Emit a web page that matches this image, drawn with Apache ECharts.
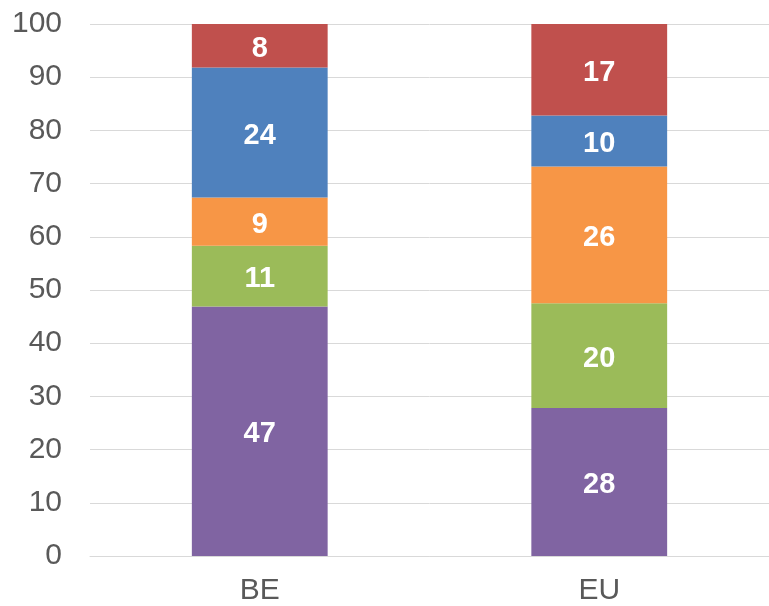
<!DOCTYPE html>
<html>
<head>
    <meta charset="utf-8">
    <script src="https://cdn.jsdelivr.net/npm/echarts@6/dist/echarts.min.js"></script>
</head>
<body style="margin:0;">
    <div id="container" style="width: 769px;height: 606px;"></div>
    <script type="text/javascript">
        // data (segment heights, labels are rounded)
        var categories = ['BE', 'EU'];
        var purple = [46.9, 27.8];
        var green = [11.4, 19.7];
        var orange = [9.1, 25.7];
        var blue = [24.4, 9.6];
        var red = [8.2, 17.2];

        var colors = ['#8064A2', '#9BBB59', '#F79646', '#4F81BD', '#C0504D'];
        var stacks = [purple, green, orange, blue, red];

        var myChart = echarts.init(document.getElementById('container'));

        var series = [];
        for (var i = 0; i < stacks.length; i++) {
            series.push({
                type: 'bar',
                stack: 'all',
                barWidth: '40%',
                data: stacks[i],
                itemStyle: { color: colors[i] },
                label: {
                    show: true,
                    position: 'inside',
                    offset: [0, 3],
                    color: '#fff',
                    fontFamily: 'Liberation Sans',
                    fontWeight: 'bold',
                    fontSize: 29,
                    formatter: function (p) { return Math.round(p.value); }
                }
            });
        }

        var option = {
            animation: false,
            grid: { left: 90, right: 0, top: 24, bottom: 50 },
            xAxis: {
                type: 'category',
                data: categories,
                axisLine: { lineStyle: { color: '#d9d9d9' } },
                axisTick: { show: false },
                axisLabel: { color: '#595959', fontSize: 30, fontFamily: 'Liberation Sans', margin: 20 }
            },
            yAxis: {
                type: 'value',
                min: 0,
                max: 100,
                interval: 10,
                axisLabel: { color: '#595959', fontSize: 30, fontFamily: 'Liberation Sans', margin: 28 },
                splitLine: { lineStyle: { color: '#d9d9d9', width: 1 } }
            },
            series: series
        };
        myChart.setOption(option);
    </script>
</body>
</html>
